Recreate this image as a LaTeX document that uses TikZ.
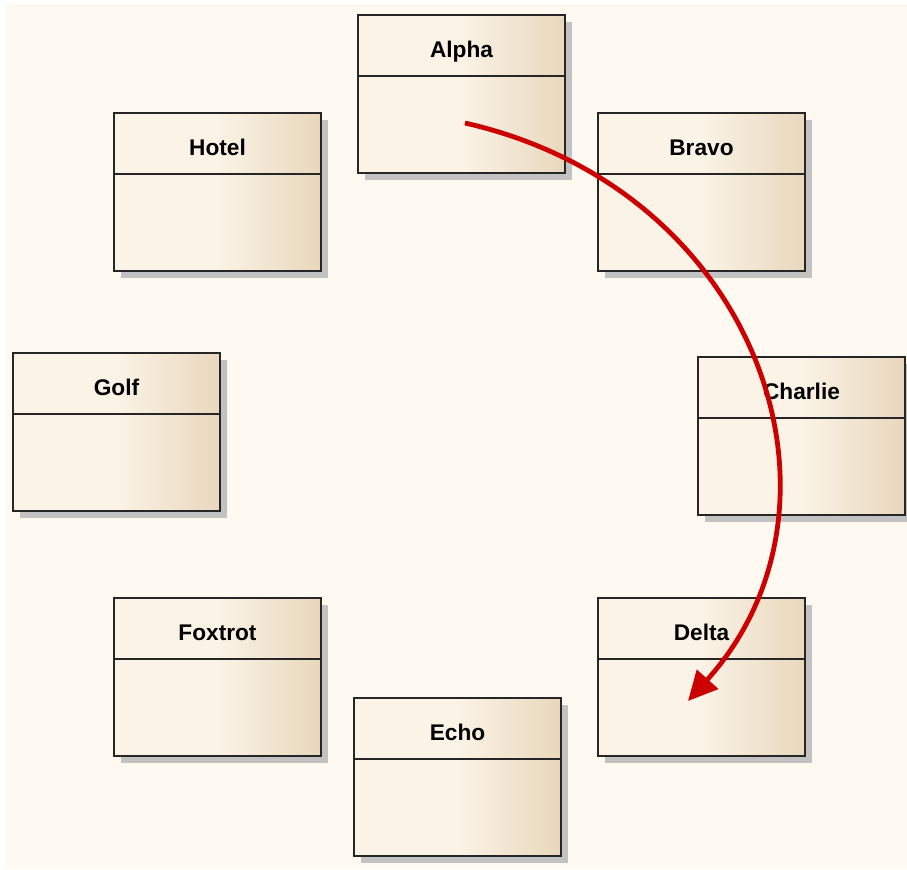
\documentclass[tikz,border=0pt]{standalone}
\usepackage{fontspec}
\setmainfont{Liberation Sans}
\usetikzlibrary{arrows.meta, shadows}

\definecolor{bgcream}{HTML}{FEFAF2}
\definecolor{boxlight}{HTML}{FBF3E6}
\definecolor{boxdark}{HTML}{E8D7BC}
\definecolor{shadowgray}{HTML}{C2C2C2}
\definecolor{flowred}{HTML}{CC0000}

\begin{document}
\begin{tikzpicture}[
        x=0.75pt, y=-0.75pt,
        classbox/.style={rectangle, draw=black!85, line width=1.4pt,
                    minimum width=155.25pt, minimum height=118.5pt,
                    inner sep=0pt, left color=boxlight, right color=boxdark,
                    middle color=boxlight,
                    drop shadow={shadow xshift=5.5pt, shadow yshift=-5.5pt,
                                 fill=shadowgray, opacity=1}},
        title/.style={anchor=base, font=\fontsize{17}{20}\selectfont\bfseries},
        flow/.style={-{Triangle[length=22pt, width=21pt]}, draw=flowred,
                    line width=3.6pt},
    ]
    % Hintergrund
    \useasboundingbox (0,0) rectangle (907,869);
    \fill[bgcream] (5,4) rectangle (907,869);

    % Klassen im Kreis
    \foreach \name/\label/\cx/\cy in {alpha/Alpha/461.5/94, bravo/Bravo/701.5/192,
            charlie/Charlie/801.5/436, delta/Delta/701.5/677, echo/Echo/457.5/777,
            foxtrot/Foxtrot/217.5/677, golf/Golf/116.5/432, hotel/Hotel/217.5/192} {
        \node[classbox] (\name) at (\cx,\cy) {};
        \draw[black!85, line width=1.4pt] ([yshift=-46.5pt]\name.north west)
            -- ([yshift=-46.5pt]\name.north east);
        \node[title] (\name-title) at ([yshift=-32.5pt]\name.north) {\label};
    }

    % Pfeil von Alpha nach Delta
    \coordinate (src) at (465,123);
    \coordinate (dst) at (688,701);
    \draw[flow] (src) .. controls (760,190) and (865,505) .. (dst);
\end{tikzpicture}
\end{document}
